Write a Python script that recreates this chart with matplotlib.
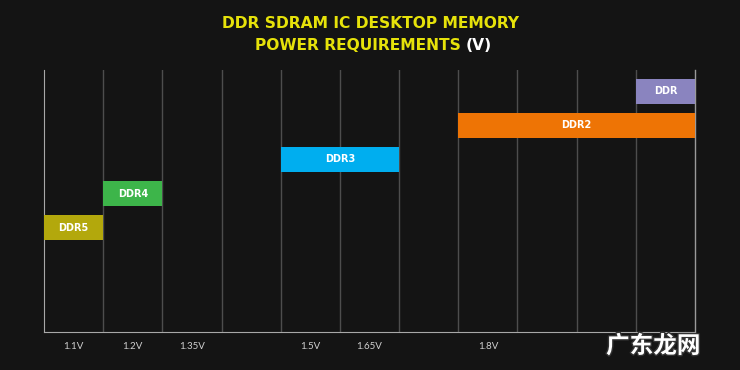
import matplotlib.pyplot as plt
import matplotlib.patheffects as pe

# memory generations and the voltage columns they cover
modules = ['DDR5', 'DDR4', 'DDR3', 'DDR2', 'DDR']
start_col = [0, 1, 4, 7, 10]
end_col = [1, 2, 6, 11, 11]
colors = ['#b3a80c', '#3db54a', '#00aeef', '#ee7405', '#8a84bf']

# voltage labels sit in the middle of a column
volt_labels = ['1.1V', '1.2V', '1.35V', '1.5V', '1.65V', '1.8V']
volt_cols = [0, 1, 2, 4, 5, 7]
n_cols = 11

bg = '#141414'
fig = plt.figure(figsize=(7.4, 3.7), dpi=100, facecolor=bg)
ax = fig.add_axes([44/740, 38/370, 651/740, 262/370], facecolor=bg)

for i in range(1, n_cols):
    ax.axvline(i, color='#4d4d4d', lw=1, zorder=1)
ax.axvline(n_cols, color='#9a9a9a', lw=1, zorder=1, clip_on=False)

h = 0.75
for r, (m, s, e, c) in enumerate(zip(modules, start_col, end_col, colors)):
    ax.barh(r, e - s, left=s, height=h, color=c, lw=0, zorder=3)
    ax.text((s + e) / 2, r, m, color='white', fontsize=7, fontweight='bold',
            ha='center', va='center', zorder=4)

ax.set_xlim(0, n_cols)
ax.set_ylim(-3.07, 4.63)
ax.set_yticks([])
ax.set_xticks([c + 0.5 for c in volt_cols])
ax.set_xticklabels(volt_labels)
ax.tick_params(axis='x', length=0, pad=7, colors='#cfcfcf', labelsize=7)
for lab in ax.get_xticklabels():
    lab.set_family('Lato')
for side in ['top', 'right']:
    ax.spines[side].set_visible(False)
ax.spines['left'].set_color('#a8a8a8')
ax.spines['bottom'].set_color('#a8a8a8')

# title
tkw = dict(fontsize=11.2, fontweight='bold', va='center')
fig.text(0.5, 1 - 24/370, 'DDR SDRAM IC DESKTOP MEMORY', color='#e6e20a',
         ha='center', **tkw)
fig.text(461/740, 1 - 46/370, 'POWER REQUIREMENTS', color='#e6e20a',
         ha='right', **tkw)
fig.text(466/740, 1 - 46/370, '(V)', color='white', ha='left', **tkw)

fig.text(606/740, 1 - 346/370, '广东龙网', color='white', fontsize=17,
         fontweight='bold', family=['Noto Sans CJK SC', 'DejaVu Sans'],
         ha='left', va='center',
         path_effects=[pe.withStroke(linewidth=2, foreground='#333333')])

fig.savefig('out.png', dpi=100, facecolor=bg)
